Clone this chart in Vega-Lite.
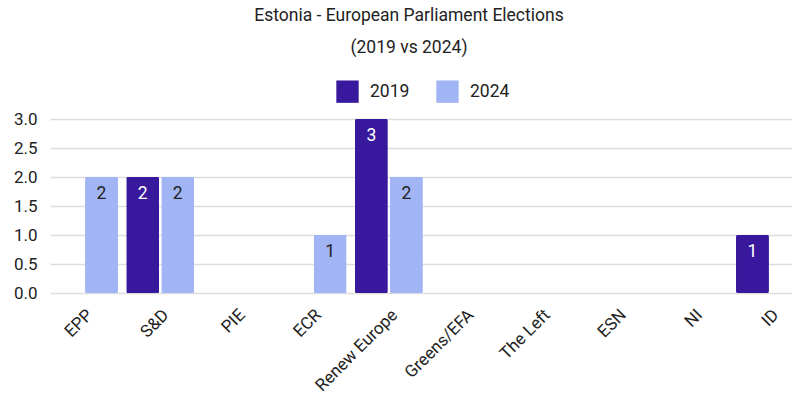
{
  "$schema": "https://vega.github.io/schema/vega-lite/v6.json",
  "width": 754,
  "height": 174,
  "padding": {"left": 13, "top": 7, "right": 0, "bottom": 0},
  "background": "white",
  "title": {
    "text": "Estonia - European Parliament Elections",
    "subtitle": "(2019 vs 2024)",
    "anchor": "middle",
    "dx": -18,
    "font": "Roboto",
    "fontSize": 17.5,
    "fontWeight": "normal",
    "color": "#222222",
    "subtitleFont": "Roboto",
    "subtitleFontSize": 17.5,
    "subtitleColor": "#222222",
    "subtitlePadding": 14,
    "offset": 24
  },
  "config": {
    "view": {"stroke": null},
    "font": "Roboto",
    "axis": {"labelFont": "Roboto", "labelFontSize": 17, "labelColor": "#222222", "titleFont": "Roboto"},
    "legend": {"labelFont": "Roboto", "labelFontSize": 17.5, "labelColor": "#222222"}
  },
  "data": {
    "values": [
      {"group": "EPP", "year": "2024", "seats": 2},
      {"group": "S&D", "year": "2019", "seats": 2},
      {"group": "S&D", "year": "2024", "seats": 2},
      {"group": "ECR", "year": "2024", "seats": 1},
      {"group": "Renew Europe", "year": "2019", "seats": 3},
      {"group": "Renew Europe", "year": "2024", "seats": 2},
      {"group": "ID", "year": "2019", "seats": 1}
    ]
  },
  "encoding": {
    "x": {
      "field": "group",
      "type": "nominal",
      "scale": {
        "domain": ["EPP", "S&D", "PIE", "ECR", "Renew Europe", "Greens/EFA", "The Left", "ESN", "NI", "ID"],
        "paddingInner": 0.108,
        "paddingOuter": 0
      },
      "axis": {
        "title": null,
        "labelAngle": -45,
        "labelAlign": "right",
        "labelBaseline": "middle",
        "ticks": false,
        "domain": false,
        "labelPadding": 19,
        "labelOffset": 6
      }
    },
    "xOffset": {
      "field": "year",
      "type": "nominal",
      "scale": {"domain": ["2019", "2024"], "paddingInner": 0.06}
    },
    "y": {
      "field": "seats",
      "type": "quantitative",
      "scale": {"domain": [0, 3]},
      "axis": {
        "title": null,
        "values": [0, 0.5, 1, 1.5, 2, 2.5, 3],
        "format": ".1f",
        "ticks": false,
        "domain": false,
        "gridColor": "#dddddd",
        "gridWidth": 1.5,
        "labelPadding": 13
      }
    }
  },
  "layer": [
    {
      "mark": {"type": "bar", "cornerRadius": 1.5},
      "encoding": {
        "color": {
          "field": "year",
          "type": "nominal",
          "scale": {"domain": ["2019", "2024"], "range": ["#38199d", "#a1b4f3"]},
          "legend": {
            "title": null,
            "orient": "none",
            "direction": "horizontal",
            "legendX": 286,
            "legendY": -39,
            "symbolType": "square",
            "symbolSize": 500,
            "symbolStrokeWidth": 0,
            "symbolOpacity": 1,
            "columnPadding": 26,
            "labelOffset": 11
          }
        }
      }
    },
    {
      "mark": {"type": "text", "baseline": "top", "dy": 8, "fontSize": 17.5, "font": "Roboto"},
      "encoding": {
        "text": {"field": "seats", "type": "quantitative"},
        "color": {
          "condition": {"test": "datum.year === '2019'", "value": "#ffffff"},
          "value": "#222222"
        }
      }
    }
  ]
}
